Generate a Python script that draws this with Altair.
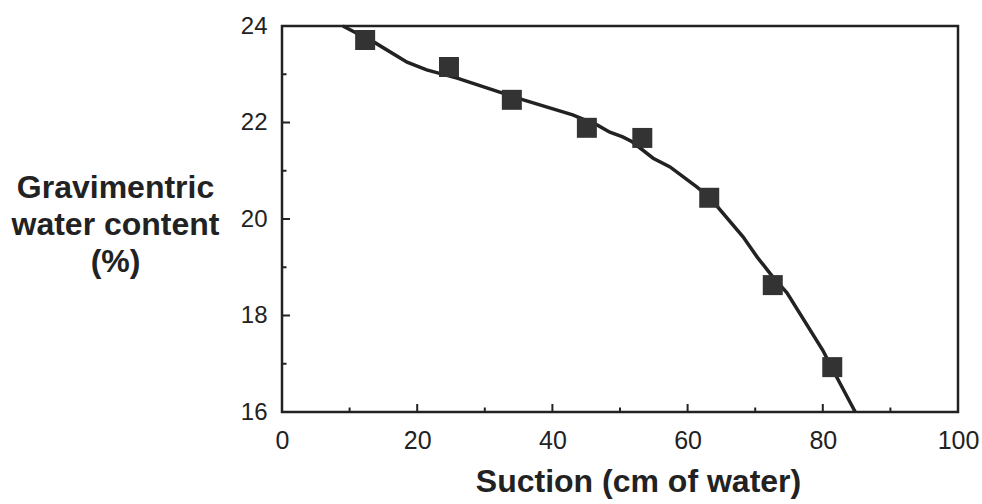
import altair as alt
import pandas as pd

# Measured points: suction (cm of water) vs gravimetric water content (%)
suction = [12.3, 24.7, 34.0, 45.1, 53.3, 63.2, 72.6, 81.4]
water = [23.71, 23.15, 22.47, 21.89, 21.68, 20.44, 18.63, 16.93]

# Fitted retention curve
curve_suction = [9.0, 13.8, 18.5, 21.4, 25.9, 32.2, 35.7, 43.0, 46.6, 48.5,
                 50.4, 51.8, 54.9, 57.4, 61.4, 63.3, 68.2, 70.3, 72.6, 74.7,
                 80.0, 81.5, 84.8]
curve_water = [24.0, 23.65, 23.25, 23.09, 22.92, 22.63, 22.47, 22.16, 21.95, 21.80,
               21.70, 21.60, 21.26, 21.08, 20.66, 20.44, 19.63, 19.21, 18.80, 18.47,
               17.28, 16.87, 16.0]

# Axis ticks (drawn inside the frame)
x_major = [0, 20, 40, 60, 80, 100]
x_minor = [10, 30, 50, 70, 90]
y_major = [16, 18, 20, 22, 24]
y_minor = [17, 19, 21, 23]

W, H = 676, 386
FONT = "Liberation Sans"
INK = "#222222"

pts = pd.DataFrame({"suction": suction, "water": water})
curve = pd.DataFrame({"suction": curve_suction, "water": curve_water})

xscale = alt.Scale(domain=[0, 100], nice=False, zero=False)
yscale = alt.Scale(domain=[16, 24], nice=False, zero=False)

x_axis = alt.Axis(
    values=x_major, ticks=False, domain=False, grid=False, labelFlush=False,
    labelFont=FONT, labelFontSize=25, labelColor=INK, labelPadding=16,
    title="Suction (cm of water)", titleFont=FONT, titleFontSize=32,
    titleFontWeight="bold", titleColor=INK, titleAlign="center",
    titleBaseline="alphabetic", titleX=356, titleY=79,
)
y_axis = alt.Axis(
    values=y_major, ticks=False, domain=False, grid=False, labelFlush=False,
    labelFont=FONT, labelFontSize=24, labelColor=INK, labelPadding=15,
    title=["Gravimentric", "water content", "(%)"], titleFont=FONT,
    titleFontSize=32, titleFontWeight="bold", titleColor=INK, titleAngle=0,
    titleAlign="center", titleBaseline="alphabetic", titleX=-167, titleY=171,
    titleLineHeight=37,
)

line = alt.Chart(curve).mark_line(color=INK, strokeWidth=3.5).encode(
    x=alt.X("suction:Q", scale=xscale, axis=x_axis),
    y=alt.Y("water:Q", scale=yscale, axis=y_axis),
    order="suction:Q",
)

squares = alt.Chart(pts).mark_square(size=400, color="#333333", opacity=1).encode(
    x=alt.X("suction:Q", scale=xscale, axis=x_axis),
    y=alt.Y("water:Q", scale=yscale, axis=y_axis),
)


def x_ticks(values, length):
    return alt.Chart(pd.DataFrame({"suction": values})).mark_rule(
        color=INK, strokeWidth=2
    ).encode(
        x=alt.X("suction:Q", scale=xscale, axis=x_axis),
        y=alt.value(H),
        y2=alt.value(H - length),
    )


def y_ticks(values, length):
    return alt.Chart(pd.DataFrame({"water": values})).mark_rule(
        color=INK, strokeWidth=2
    ).encode(
        y=alt.Y("water:Q", scale=yscale, axis=y_axis),
        x=alt.value(0),
        x2=alt.value(length),
    )


chart = alt.layer(
    line, squares,
    x_ticks(x_major, 8), x_ticks(x_minor, 4.5),
    y_ticks(y_major, 8), y_ticks(y_minor, 4.5),
).properties(
    width=W, height=H,
    autosize=alt.AutoSizeParams(type="none"),
    padding={"left": 282, "top": 26, "right": 24, "bottom": 92},
    background="white",
).configure_view(
    stroke=INK, strokeWidth=2.5,
)

chart.save("out.html", embed_options={"renderer": "svg", "actions": False})
